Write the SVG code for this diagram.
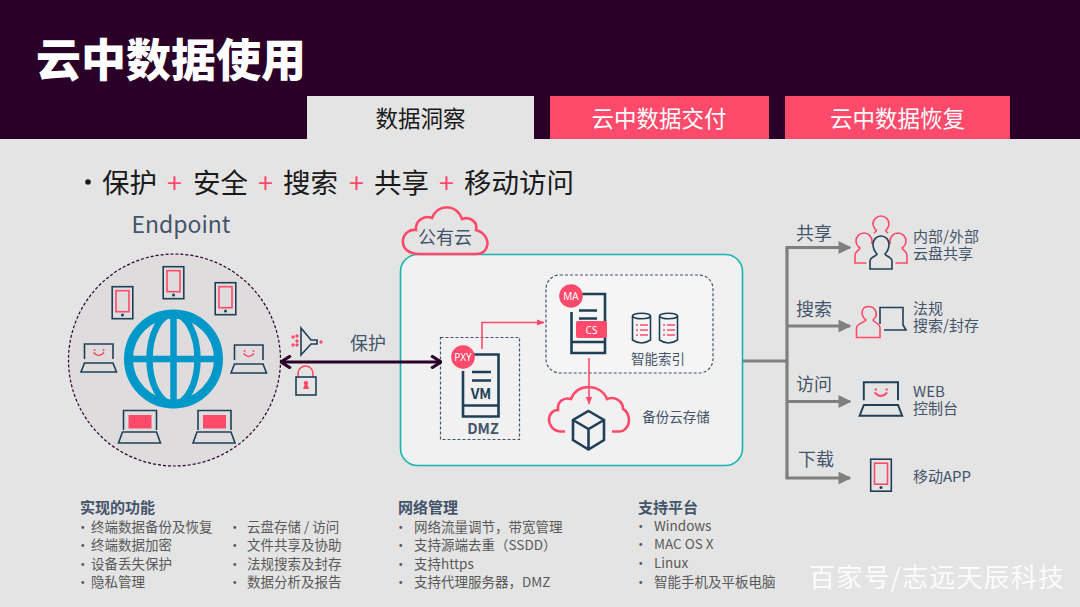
<svg xmlns="http://www.w3.org/2000/svg" width="1080" height="607" viewBox="0 0 1080 607">
<style>
text{font-family:"Noto Sans CJK SC","Noto Sans",sans-serif;fill:#44546a}
.ln{fill:none;stroke:#1f3f57;stroke-width:1.6}
.lnb{fill:none;stroke:#1f3f57;stroke-width:2.6}
.pk{fill:none;stroke:#ff4a6b;stroke-width:1.6}
.pkb{fill:none;stroke:#ff4a6b;stroke-width:2.6}
.t14{font-size:15px}
.t13{font-size:13.5px;fill:#595959}
.h{font-size:15px;font-weight:700;fill:#44546a}
.t18{font-size:18px}
.gr{fill:none;stroke:#7f7f7f;stroke-width:3.2}
.plus{font-size:27px;fill:#ff4a6b}
.main{font-size:27.5px;fill:#1a1a1a}
.badge{font-size:10px;fill:#fff;text-anchor:middle;font-family:"Noto Sans",sans-serif}
</style>
<defs>
<symbol id="phone" overflow="visible"><rect x="0.7" y="0.7" width="20.6" height="32" class="ln"/><rect x="4.5" y="4.7" width="13" height="21" class="pk"/><circle cx="11" cy="29" r="1.500" fill="#1f3f57"/></symbol>
<symbol id="laptop" overflow="visible"><path class="ln" d="M4 16V1H32.500V16"/><path class="ln" d="M4 20H32.500L36 29H0.500Z"/><path class="pk" d="M13 9.500Q18.300 15.500 23.500 9.500"/><circle cx="14" cy="7" r="1" fill="#ff4a6b"/><circle cx="23" cy="7" r="1" fill="#ff4a6b"/></symbol>
<symbol id="laptopf" overflow="visible"><path class="ln" d="M5 20V0.500H38V20"/><path class="ln" d="M4 22H38L42 33H0Z"/><rect x="10" y="5" width="23" height="13.500" fill="#ff4a6b"/></symbol>
<symbol id="db" overflow="visible"><ellipse cx="9.500" cy="3" rx="9" ry="2.800" class="ln"/><path class="ln" d="M0.500 3V27Q9.500 33 18.500 27V3"/><path class="pk" d="M8 12H16M8 17H16M8 22H16"/><path class="pk" stroke-dasharray="2 3" d="M4 12H6M4 17H6M4 22H6"/></symbol>
<marker id="ag" viewBox="0 0 10 10" refX="9" refY="5" markerWidth="4" markerHeight="4" orient="auto"><path d="M0 0L10 5L0 10Z" fill="#7f7f7f"/></marker>
<marker id="ap" viewBox="0 0 10 10" refX="9" refY="5" markerWidth="5" markerHeight="5" orient="auto"><path d="M0 1L10 5L0 9Z" fill="#ff4a6b"/></marker>
<marker id="ad" viewBox="0 0 10 10" refX="9" refY="5" markerWidth="5" markerHeight="5" orient="auto-start-reverse"><path d="M2 0.500L9 5L2 9.500" fill="none" stroke="#2a0029" stroke-width="2.200"/></marker>
</defs>

<rect width="1080" height="607" fill="#e4e4e4"/>
<rect width="1080" height="139" fill="#2a0029"/>
<text x="36" y="77" style="font-size:45px;font-weight:900;fill:#fff">云中数据使用</text>

<g id="tab1"><rect x="307" y="96" width="227" height="44" fill="#e4e4e4"/><text x="420.500" y="127" text-anchor="middle" style="font-size:22.500px;fill:#1a1a1a">数据洞察</text></g>
<g id="tab2"><rect x="550" y="96" width="219" height="43" fill="#ff4a6b"/><text x="659" y="127" text-anchor="middle" style="font-size:22.500px;fill:#fff">云中数据交付</text></g>
<g id="tab3"><rect x="785" y="96" width="225" height="43" fill="#ff4a6b"/><text x="897.500" y="127" text-anchor="middle" style="font-size:22.500px;fill:#fff">云中数据恢复</text></g>

<g id="subtitle">
<circle cx="88" cy="182" r="2.800" fill="#1a1a1a"/>
<text class="main" x="102" y="193">保护</text><text class="plus" x="167" y="193">+</text>
<text class="main" x="193" y="193">安全</text><text class="plus" x="258" y="193">+</text>
<text class="main" x="283" y="193">搜索</text><text class="plus" x="349" y="193">+</text>
<text class="main" x="374" y="193">共享</text><text class="plus" x="439" y="193">+</text>
<text class="main" x="464" y="193">移动访问</text>
</g>

<g id="endpoint">
<text x="181" y="233" text-anchor="middle" style="font-size:23px">Endpoint</text>
<circle cx="174.500" cy="360" r="106" fill="#dedcdd" stroke="#2a0029" stroke-width="1.200" stroke-dasharray="3 2"/>
<g fill="none" stroke="#0098c8" stroke-width="6.500">
<circle cx="173.500" cy="359" r="45" stroke-width="9"/>
<ellipse cx="173.500" cy="359" rx="24" ry="45"/>
<path d="M173.500 314V404M128 359H219"/>
</g>
<use href="#phone" x="162.500" y="266"/>
<use href="#phone" x="111.500" y="286"/>
<use href="#phone" x="214.500" y="282"/>
<use href="#laptop" x="80.500" y="343"/>
<use href="#laptop" x="230.500" y="344"/>
<use href="#laptopf" x="118.500" y="410"/>
<use href="#laptopf" x="193" y="410"/>
</g>

<g id="protect">
<g fill="#ff4a6b"><circle cx="293" cy="337" r="1.700"/><circle cx="297" cy="336" r="1.700"/><circle cx="293" cy="345" r="1.700"/><circle cx="297" cy="341" r="1.700"/><circle cx="297" cy="345" r="1.700"/><circle cx="321" cy="342" r="1.700"/></g>
<path class="ln" d="M301 328L311 340H317V344H311L301 355Z"/>
<path class="pk" d="M298 377V373.500a7.500 7.500 0 0 1 15 0V377"/>
<rect x="296" y="377" width="20" height="18" class="ln"/>
<path d="M306 381a2 2 0 0 1 1.500 3.500L309 389H303L304.500 384.500a2 2 0 0 1 1.500-3.500Z" fill="#ff4a6b"/>
<text class="t18" x="350" y="350">保护</text>
</g>

<g id="public-cloud">
<rect x="400.500" y="254.500" width="342" height="211" rx="17" fill="#f1f1f1" stroke="#14b5ac" stroke-width="1.600"/>
<path d="M420 254C408 254 402 248 403 240C404 233 410 229 416 230C415 220 425 215 432 218C437 204 456 203 462 219C470 216 478 222 476 230C484 232 489 240 487 246C486 251 482 254 476 254Z" fill="#e4e4e4" stroke="#ff4a6b" stroke-width="2.600"/>
<text x="445" y="244" text-anchor="middle" style="font-size:18px">公有云</text>
</g>

<g id="dmz">
<rect x="440.500" y="337.500" width="79" height="102" fill="none" stroke="#44546a" stroke-width="1.200" stroke-dasharray="3 2"/>
<path class="lnb" d="M470 354.500H498.500V416.500H463V371"/>
<path class="lnb" d="M463 405.500H498.500M472 372H491M472 380.500H491"/>
<text x="481" y="399" text-anchor="middle" style="font-size:14px;font-weight:700;fill:#1f3f57">VM</text>
<circle cx="463" cy="357" r="11.800" fill="#ff4a6b"/>
<text class="badge" x="463" y="360.500">PXY</text>
<text x="483" y="434" text-anchor="middle" style="font-size:14.500px;font-weight:700;fill:#44546a">DMZ</text>
</g>

<g id="smart-index">
<rect x="546" y="275" width="167" height="98" rx="14" fill="#f5f5f5" stroke="#44546a" stroke-width="1.200" stroke-dasharray="3 2"/>
<path class="lnb" d="M582 294H605V353H571.500V312"/>
<path class="lnb" d="M571.500 342H605M579 310.500H597M579 318.500H597"/>
<rect x="576" y="321" width="31" height="17" rx="2" fill="#ff4a6b"/>
<text class="badge" x="591.500" y="333.500">CS</text>
<circle cx="571" cy="296" r="11.800" fill="#ff4a6b"/>
<text class="badge" x="571" y="299.500">MA</text>
<use href="#db" x="632" y="313"/>
<use href="#db" x="659" y="313"/>
<text x="658" y="364" text-anchor="middle" style="font-size:13.500px">智能索引</text>
</g>

<g id="backup-cloud">
<path class="pkb" d="M565 431.500H560C553 431 549 425 549 420C549 414 553 410 558 410C557 402 563 397 571 399C575 389 582 387 589 387C596 387 604 391 607 399C615 396 623 401 623 409C626 410 629 415 629 420C629 426 625 431.500 619 431.500H612"/>
<path class="lnb" d="M588.500 411L604 420V440L588.500 449.500L573 440V420ZM573 420L588.500 429L604 420M588.500 429V449.500"/>
<text x="676" y="422" text-anchor="middle" style="font-size:13.500px">备份云存储</text>
</g>

<g id="connectors">
<path d="M281 362H441" fill="none" stroke="#2a0029" stroke-width="2.800" marker-start="url(#ad)" marker-end="url(#ad)"/>
<path d="M482 349V322.500H544" fill="none" stroke="#ff4a6b" stroke-width="1.600" marker-end="url(#ap)"/>
<path d="M589 358V404" fill="none" stroke="#ff4a6b" stroke-width="1.600" marker-end="url(#ap)"/>
<path class="gr" d="M743 361H787"/>
<path class="gr" d="M787 478V247.500"/>
<path class="gr" d="M785.500 247.500H850" marker-end="url(#ag)"/>
<path class="gr" d="M787 326H850" marker-end="url(#ag)"/>
<path class="gr" d="M787 401.500H850" marker-end="url(#ag)"/>
<path class="gr" d="M785.500 478H850" marker-end="url(#ag)"/>
</g>

<g id="share">
<text class="t18" x="796" y="240">共享</text>
<path class="pk" d="M874 233C877 231 877 230 875 229C873 226 873 225 873 224A8 8 0 0 1 889 224C889 226 888 228 887 229C885 230 886 232 888 233"/>
<path class="pk" d="M866.500 263H855V255C855 251 860 250 860 248C856 245 856 243 856 241A8 8 0 0 1 872 241C872 242 872 243 871.500 244"/>
<path class="pk" d="M895.500 263H907V255C907 251 902 250 902 248C906 245 906 243 906 241A8 8 0 0 0 890 241C890 242 890 243 890.500 244"/>
<path class="ln" d="M870 269V261C870 257 877 256 877 254C873 250 873 247 873 244A8 8 0 0 1 889 244C889 247 889 250 885 254C885 256 892 257 892 261V269Z"/>
<text class="t14" x="913" y="242">内部/外部</text>
<text class="t14" x="913" y="259">云盘共享</text>
</g>

<g id="search">
<text class="t18" x="796" y="316">搜索</text>
<path class="pk" d="M856.500 337.500V328C856.500 323 866 322 866 320C860 315 861 307 868 306.500C876 306.500 879 315 873 320C873 322 880 323 880 328V337.500Z"/>
<path class="ln" d="M880 324V307.500H903V325L906 330H884"/>
<text class="t14" x="913" y="314">法规</text>
<text class="t14" x="913" y="331">搜索/封存</text>
</g>

<g id="access">
<text class="t18" x="796" y="391">访问</text>
<g transform="translate(859 381) scale(1.200)"><use href="#laptop"/></g>
<text class="t14" x="913" y="397">WEB</text>
<text class="t14" x="913" y="414">控制台</text>
</g>

<g id="download">
<text class="t18" x="798" y="466">下载</text>
<use href="#phone" x="870" y="458.500"/>
<text class="t14" x="913" y="482">移动APP</text>
</g>

<g id="features">
<text class="h" x="80" y="513">实现的功能</text>
<text class="t13" x="76" y="532">•</text><text class="t13" x="76" y="550">•</text><text class="t13" x="76" y="569">•</text><text class="t13" x="76" y="587">•</text><text class="t13" x="228" y="532">•</text><text class="t13" x="228" y="550">•</text><text class="t13" x="228" y="569">•</text><text class="t13" x="228" y="587">•</text>
<text class="t13" x="91" y="532">终端数据备份及恢复</text>
<text class="t13" x="91" y="550">终端数据加密</text>
<text class="t13" x="91" y="569">设备丢失保护</text>
<text class="t13" x="91" y="587">隐私管理</text>
<text class="t13" x="247" y="532">云盘存储 / 访问</text>
<text class="t13" x="247" y="550">文件共享及协助</text>
<text class="t13" x="247" y="569">法规搜索及封存</text>
<text class="t13" x="247" y="587">数据分析及报告</text>
</g>
<g id="network">
<text class="h" x="398" y="513">网络管理</text>
<text class="t13" x="394" y="532">•</text><text class="t13" x="394" y="550">•</text><text class="t13" x="394" y="569">•</text><text class="t13" x="394" y="587">•</text>
<text class="t13" x="414" y="532">网络流量调节，带宽管理</text>
<text class="t13" x="414" y="550">支持源端去重（SSDD）</text>
<text class="t13" x="414" y="569">支持https</text>
<text class="t13" x="414" y="587">支持代理服务器，DMZ</text>
</g>
<g id="platform">
<text class="h" x="638" y="513">支持平台</text>
<text class="t13" x="634" y="531">•</text><text class="t13" x="634" y="549">•</text><text class="t13" x="634" y="568">•</text><text class="t13" x="634" y="587">•</text>
<text class="t13" x="654" y="531">Windows</text>
<text class="t13" x="654" y="549">MAC OS X</text>
<text class="t13" x="654" y="568">Linux</text>
<text class="t13" x="654" y="587">智能手机及平板电脑</text>
</g>
<text x="809" y="587" style="font-size:26px;letter-spacing:1.200px;fill:#fff;fill-opacity:.9">百家号/志远天辰科技</text>
</svg>
